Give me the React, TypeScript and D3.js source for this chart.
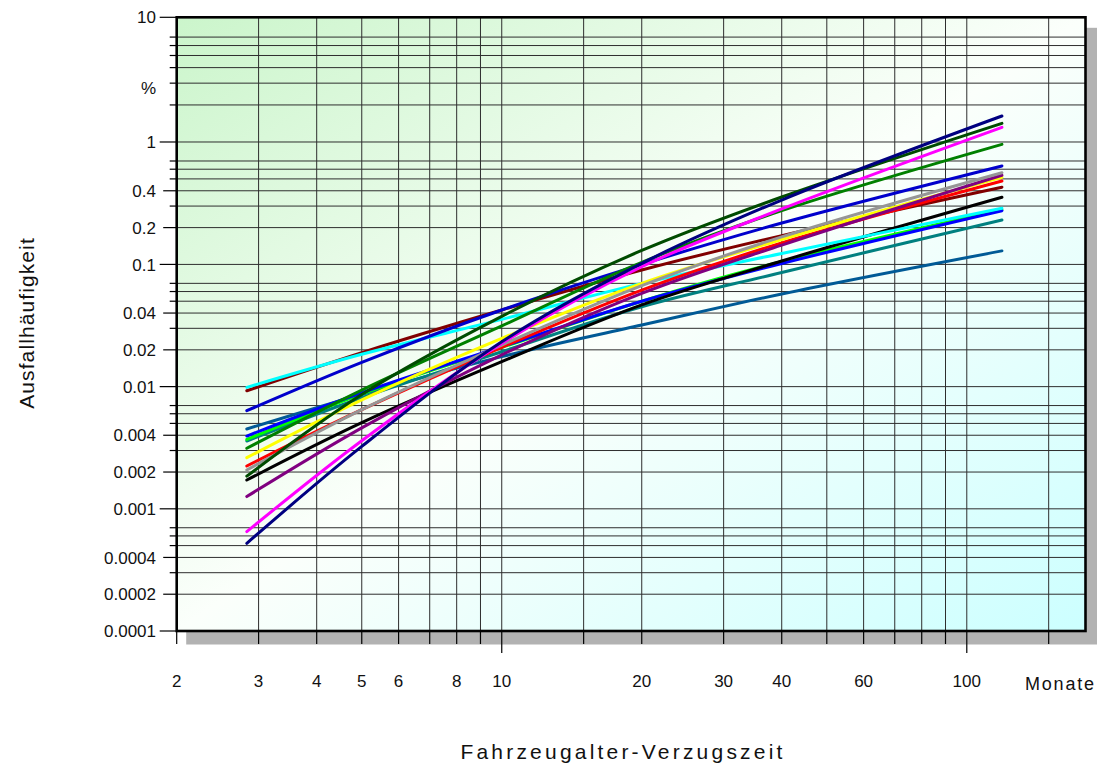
import React from "react";
import * as d3 from "d3";

// ---------- data (failure frequency in %) ----------
const months = [2.83, 5, 10, 20, 40, 119];

const sNavy = [0.000522, 0.00324, 0.0233, 0.102, 0.336, 1.626];
const sDarkGreen = [0.00185, 0.00863, 0.0376, 0.13, 0.356, 1.418];
const sMagenta = [0.00065, 0.00361, 0.0226, 0.0957, 0.284, 1.315];
const sGreen = [0.00313, 0.00937, 0.0314, 0.104, 0.275, 0.956];
const sBlue = [0.00635, 0.0158, 0.0424, 0.1, 0.218, 0.638];
const sGray = [0.00208, 0.00648, 0.0219, 0.067, 0.168, 0.562];
const sPurple = [0.00126, 0.0046, 0.0182, 0.058, 0.144, 0.536];
const sYellow = [0.00262, 0.00778, 0.0248, 0.07, 0.16, 0.516];
const sRed = [0.00224, 0.00647, 0.021, 0.0617, 0.15, 0.481];
const sMaroon = [0.00925, 0.019, 0.0424, 0.09, 0.172, 0.428];
const sBlack = [0.00172, 0.00507, 0.016, 0.0466, 0.1066, 0.354];
const sCyan = [0.00986, 0.0184, 0.0355, 0.07, 0.123, 0.288];
const sLime = [0.0037, 0.00869, 0.0209, 0.05, 0.1056, 0.28];
const sBlue2 = [0.00394, 0.00891, 0.0212, 0.05, 0.1017, 0.275];
const sTeal = [0.00359, 0.00811, 0.0193, 0.0451, 0.0859, 0.231];
const sSteel = [0.0045, 0.00863, 0.0176, 0.0319, 0.0573, 0.129];

const series = [
  { values: sSteel, color: "#005a96" },
  { values: sTeal, color: "#008080" },
  { values: sLime, color: "#00ff00" },
  { values: sBlue2, color: "#0000ff" },
  { values: sBlack, color: "#000000" },
  { values: sMaroon, color: "#800000" },
  { values: sCyan, color: "#00ffff" },
  { values: sRed, color: "#ff0000" },
  { values: sYellow, color: "#ffff00" },
  { values: sPurple, color: "#800080" },
  { values: sGray, color: "#969696" },
  { values: sBlue, color: "#0000cc" },
  { values: sGreen, color: "#008000" },
  { values: sMagenta, color: "#ff00ff" },
  { values: sDarkGreen, color: "#004b00" },
  { values: sNavy, color: "#000080" },
];

const xGridValues = [3, 4, 5, 6, 7, 8, 9, 10, 15, 20, 30, 40, 50, 60, 70, 80, 90, 100, 150];
const xTickValues = [2, ...xGridValues];
const xLabelValues = [2, 3, 4, 5, 6, 8, 10, 20, 30, 40, 60, 100];
const xLongTicks = [10, 100];

const yDecades = [0.0001, 0.001, 0.01, 0.1, 1];
const yMultiples = [1, 2, 3, 4, 5, 6, 7];
const yLabels = [
  { v: 10, t: "10" },
  { v: 2.75, t: "%" },
  { v: 1, t: "1" },
  { v: 0.4, t: "0.4" },
  { v: 0.2, t: "0.2" },
  { v: 0.1, t: "0.1" },
  { v: 0.04, t: "0.04" },
  { v: 0.02, t: "0.02" },
  { v: 0.01, t: "0.01" },
  { v: 0.004, t: "0.004" },
  { v: 0.002, t: "0.002" },
  { v: 0.001, t: "0.001" },
  { v: 0.0004, t: "0.0004" },
  { v: 0.0002, t: "0.0002" },
  { v: 0.0001, t: "0.0001" },
];

// ---------- layout ----------
const W = 1101;
const H = 769;
const L = 176.7;
const R = 1085.5;
const T = 17.3;
const B = 631;
const FONT = "'Liberation Sans', Arial, sans-serif";

// Weibull probability transform
const wt = (p: number) => Math.log10(-Math.log(1 - p / 100));

export default function App() {
  const x = d3.scaleLog().domain([2, 180]).range([L, R]);
  const yLin = d3.scaleLinear().domain([wt(0.0001), wt(10)]).range([B, T]);
  const y = (p: number) => yLin(wt(p));

  const line = d3
    .line<number>()
    .x((_, i) => x(months[i]))
    .y((d) => y(d))
    .curve(d3.curveCatmullRom.alpha(0.5));

  const gridY: { v: number; kind: string }[] = [];
  yDecades.forEach((d) => {
    yMultiples.forEach((m) => {
      const v = d * m;
      let kind = "short";
      if (m === 1) kind = "long";
      else if ((m === 2 || m === 4) && d < 1) kind = "mid";
      gridY.push({ v, kind });
    });
  });
  gridY.push({ v: 10, kind: "long" });

  return (
    <svg
      width={W}
      height={H}
      style={{ position: "absolute", left: 0, top: 0, background: "#fff" }}
    >
      <defs>
        <linearGradient id="bg" x1="0" y1="0" x2="1" y2="1">
          <stop offset="0" stopColor="#cbf5cb" />
          <stop offset="0.5" stopColor="#fbfffb" />
          <stop offset="1" stopColor="#ccffff" />
        </linearGradient>
        <clipPath id="plotClip">
          <rect x={L} y={T} width={R - L} height={B - T} />
        </clipPath>
      </defs>

      {/* shadow */}
      <rect x={L + 9.5} y={T + 10.5} width={R - L + 2} height={B - T + 3} fill="#b2b2b2" />
      {/* plot background */}
      <rect x={L} y={T} width={R - L} height={B - T} fill="url(#bg)" />

      {/* grid */}
      <g stroke="#2e2e2e" strokeWidth={1}>
        {gridY.map((g, i) => (
          <line key={"gy" + i} x1={L} x2={R} y1={y(g.v)} y2={y(g.v)} />
        ))}
        {xGridValues.map((v) => (
          <line key={"gx" + v} x1={x(v)} x2={x(v)} y1={T} y2={B} />
        ))}
      </g>

      {/* y ticks */}
      <g stroke="#000" strokeWidth={1.2}>
        {gridY.map((g, i) => {
          const len = g.kind === "long" ? 17 : g.kind === "mid" ? 13.5 : 7;
          return <line key={"ty" + i} x1={L - len} x2={L} y1={y(g.v)} y2={y(g.v)} />;
        })}
      </g>
      {/* x ticks */}
      <g stroke="#000" strokeWidth={1.2}>
        {xTickValues.map((v) => (
          <line
            key={"tx" + v}
            x1={x(v)}
            x2={x(v)}
            y1={B}
            y2={B + (xLongTicks.includes(v) ? 22 : 13)}
          />
        ))}
      </g>

      {/* series */}
      <g clipPath="url(#plotClip)" fill="none" strokeWidth={3} strokeLinecap="round">
        {series.map((s, i) => (
          <path key={"s" + i} d={line(s.values) || ""} stroke={s.color} />
        ))}
      </g>

      {/* frame */}
      <rect x={L} y={T} width={R - L} height={B - T} fill="none" stroke="#000" strokeWidth={2.6} />

      {/* y labels */}
      <g fontFamily={FONT} fontSize={17} fill="#111" textAnchor="end">
        {yLabels.map((l) => (
          <text key={"yl" + l.t} x={156} y={y(l.v)} dy="0.36em">
            {l.t}
          </text>
        ))}
      </g>

      {/* x labels */}
      <g fontFamily={FONT} fontSize={17} fill="#111" textAnchor="middle">
        {xLabelValues.map((v) => (
          <text key={"xl" + v} x={x(v)} y={687}>
            {String(v)}
          </text>
        ))}
        <text x={x(159)} y={690} fontSize={18} letterSpacing={1.8}>
          Monate
        </text>
      </g>

      {/* axis titles */}
      <text
        x={623}
        y={759}
        textAnchor="middle"
        fontFamily={FONT}
        fontSize={21}
        letterSpacing={3.2}
        fill="#111"
      >
        Fahrzeugalter-Verzugszeit
      </text>
      <text
        transform={`translate(34,${323}) rotate(-90)`}
        textAnchor="middle"
        fontFamily={FONT}
        fontSize={21}
        letterSpacing={1.1}
        fill="#111"
      >
        Ausfallhäufigkeit
      </text>
    </svg>
  );
}
